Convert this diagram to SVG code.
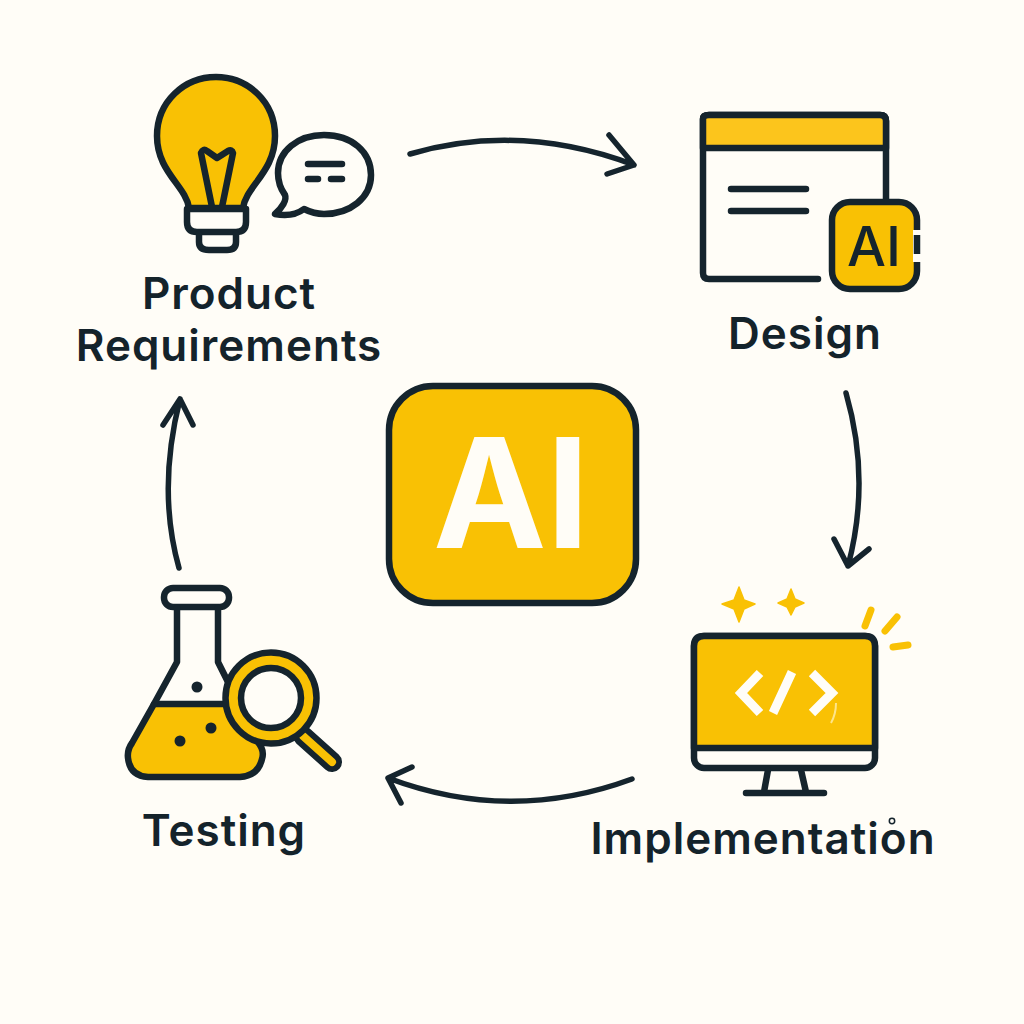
<svg xmlns="http://www.w3.org/2000/svg" width="1024" height="1024" viewBox="0 0 1024 1024">
<defs><style>
.o{fill:none;stroke:#15242d;stroke-width:6.5;stroke-linecap:round;stroke-linejoin:round}
.f{fill:#f9c104;stroke:#15242d;stroke-width:6.5;stroke-linecap:round;stroke-linejoin:round}
.w{fill:#fffdf7;stroke:#15242d;stroke-width:6.5;stroke-linecap:round;stroke-linejoin:round}
.d{fill:#15242d}
.s{fill:#f9c104}
.y{fill:none;stroke:#f9c104;stroke-width:7;stroke-linecap:round}
.t{font-family:"Inter","Liberation Sans",sans-serif;font-weight:600;font-size:44px;letter-spacing:1px;fill:#14232b;text-anchor:middle}
.a{fill:none;stroke:#15242d;stroke-width:5.5;stroke-linecap:round;stroke-linejoin:round}
</style></defs>
<rect width="1024" height="1024" fill="#fffdf7"/>
<g id="connectors">
<path class="a" d="M410 154Q520 122 634 165M609 135L634 165L607 174"/>
<path class="a" d="M846 393Q871 480 848 566M834 539L848 566L869 549"/>
<path class="a" d="M632 779Q510 824 388 778M412 767L388 778L401 803"/>
<path class="a" d="M179 568Q157 490 180 399M163 425L180 399L193 425"/>
</g>
<g id="center"><rect x="389" y="386" width="247" height="217" rx="44" class="f"/>
<text x="511" y="548" style="font-family:Inter,'Liberation Sans',sans-serif;font-weight:700;font-size:152px;fill:#fffdf7;text-anchor:middle">AI</text></g>
<g id="product-requirements">
<path class="f" d="M189 208C186 186 157 172 157 136C157 102 184 77 216 77C248 77 275 102 275 136C275 172 246 186 243 208Z"/>
<path class="o" d="M212 207L201 153Q203 148 207 151L217 158L228 151Q232 149 233 153L222 207"/>
<path class="w" d="M187 209H246V222Q246 232 236 232H197Q187 232 187 222Z"/>
<path class="o" d="M199 234V242Q199 250 209 250H227Q236 250 236 242V234"/>
<path class="w" d="M324 135C352 135 371 152 371 175C371 198 350 214 324 214C315 214 310 212 304 209C296 215 285 216 275 214C282 208 287 200 285 195C280 188 278 181 278 173C278 151 298 135 324 135Z"/>
<path class="o" d="M308 164H342M308 179H318M331 179H342"/>
<text class="t" x="229" y="309">Product</text><text class="t" x="229" y="361">Requirements</text>
</g>
<g id="design">
<path class="w" d="M818 279H709Q703 279 703 273V119Q703 115 709 115H880Q886 115 886 121V205"/>
<path class="f" style="fill:#fcc51c" d="M703 148V119Q703 115 709 115H880Q886 115 886 121V148Z"/>
<path class="o" d="M731 189H806M731 211H806"/>
<rect x="832" y="202" width="85" height="87" rx="18" class="f"/>
<path d="M917 230V262" stroke="#fffdf7" stroke-width="8"/><path d="M917 235V254" stroke="#15242d" stroke-width="6.5"/>
<text x="874" y="266" style="font-family:Inter,'Liberation Sans',sans-serif;font-weight:500;font-size:55px;fill:#15242d;text-anchor:middle">AI</text>
<text class="t" x="805" y="349">Design</text>
</g>
<g id="implementation">
<path class="s" d="M739 587L744 600L755 604L744 609L739 622L734 609L722 604L734 600Z" stroke="#f9c104" stroke-width="1.5" stroke-linejoin="round"/>
<path class="s" d="M791 589L795 599L804 603L795 607L791 615L787 607L778 603L787 599Z" stroke="#f9c104" stroke-width="1.5" stroke-linejoin="round"/>
<path class="y" d="M871 610L865 626M897 617L885 631M893 647L908 645"/>
<rect x="694" y="636" width="181" height="132" rx="10" class="w"/>
<path class="f" d="M694 748V646Q694 636 704 636H865Q875 636 875 646V748Z"/>
<path d="M760 673L741 693L760 713M812 673L832 693L812 713M773 713L792 672" fill="none" stroke="#fffdf7" stroke-width="9"/>
<path d="M836 703Q836 714 831 723" fill="none" stroke="#fff3c4" stroke-width="2" opacity=".7"/>
<path class="o" d="M768 770L764 792M801 770L806 792M746 793H824"/>
<text class="t" x="763" y="854">Implementation</text>
<circle cx="892" cy="821" r="2.7" fill="none" stroke="#15242d" stroke-width="1.5"/>
</g>
<g id="testing">
<rect x="164" y="588" width="65" height="19" rx="9" class="w"/>
<path class="f" d="M154 704H226L257 741Q265 750 262 759Q258 776 240 777H148Q130 776 128 758Q127 750 132 743Z"/>
<path class="o" d="M177 608V662L154 704M218 608V662L229 684"/>
<circle class="d" cx="197" cy="687" r="5.5"/><circle class="d" cx="211" cy="728" r="5.5"/><circle class="d" cx="180" cy="741" r="5.5"/>
<path d="M303 736L332 762" fill="none" stroke="#15242d" stroke-width="20" stroke-linecap="round"/>
<path d="M303 736L332 762" fill="none" stroke="#f9c104" stroke-width="8" stroke-linecap="round"/>
<circle cx="271" cy="698" r="45.5" class="f"/><circle cx="271" cy="698" r="30" class="w"/>
<text class="t" x="224" y="846">Testing</text>
</g>
</svg>
